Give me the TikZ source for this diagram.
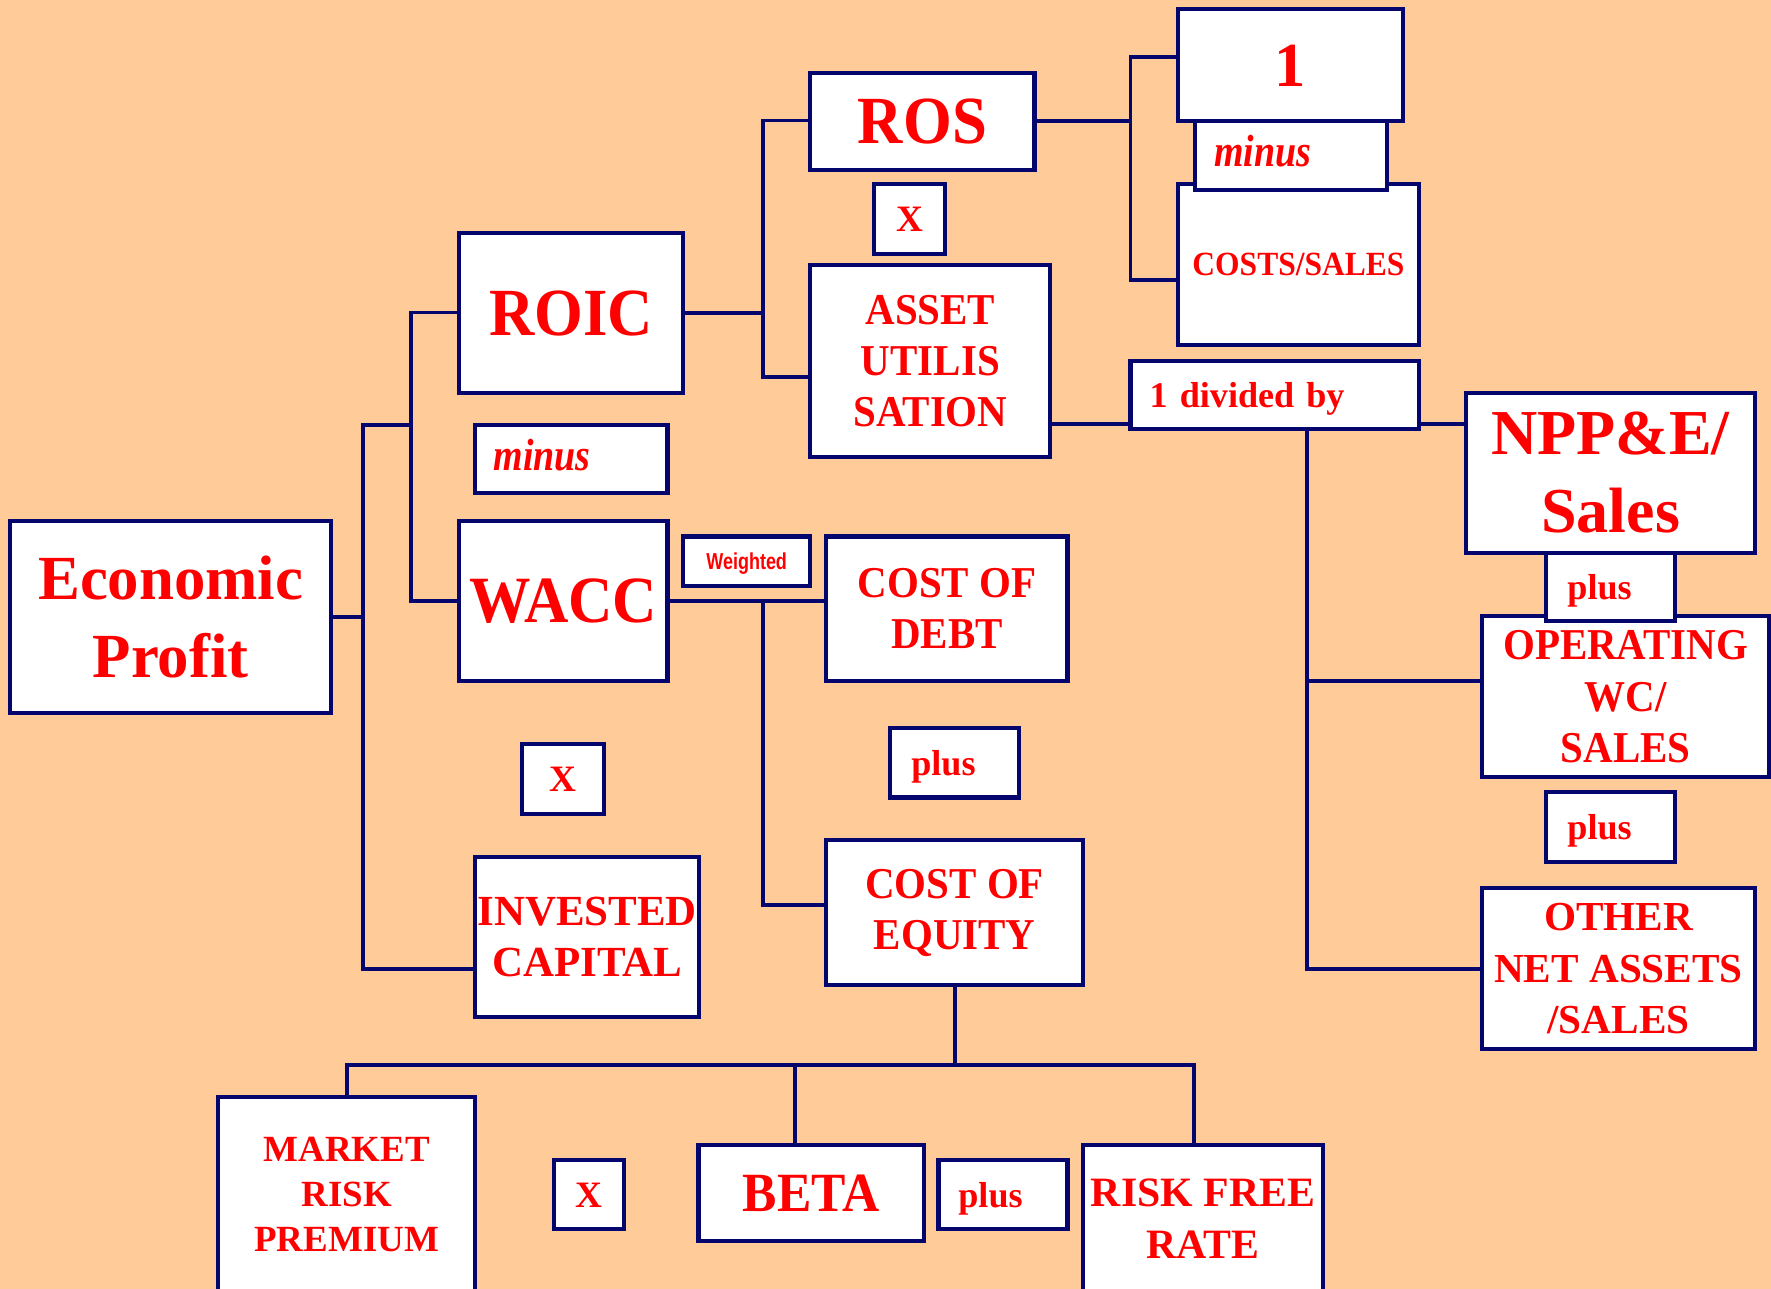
\documentclass[tikz,border=0pt]{standalone}
\usepackage{fontspec}
\setmainfont{Liberation Serif}
\newfontfamily\tnr{Liberation Serif}
\newfontfamily\tnrc{Liberation Serif}[FakeStretch=0.93]
\newfontfamily\tnri{Liberation Serif}[FakeStretch=0.84]
\newfontfamily\arn{Liberation Sans}[FakeStretch=0.78]
\definecolor{peach}{RGB}{255,204,153}
\definecolor{boxnavy}{RGB}{5,5,110}
\definecolor{txtred}{RGB}{255,0,0}
\pgfdeclarelayer{bg}
\pgfsetlayers{bg,main}
\tikzset{
  box/.style={draw=boxnavy, fill=white, line width=3.6pt, inner sep=0pt, text=txtred, align=center},
  conn/.style={draw=boxnavy, line width=3.4pt, line cap=rect},
  oneline/.style={text height=#1, text depth=0pt},
  lbox/.style={box, align=left, inner xsep=#1},
}
\begin{document}
\begin{tikzpicture}[x=1pt,y=-1pt]
\begin{pgfonlayer}{bg}
\fill[peach] (0,0) rectangle (1568,1141);
\end{pgfonlayer}
\useasboundingbox (0,0) rectangle (1568,1141);

% left column
\node[box, minimum width=284.1pt, minimum height=170.1pt, font=\tnr\bfseries\fontsize{55.6}{69}\selectfont] (econ) at (151.15,546.35) {Economic\\Profit};
\node[box, oneline=39.5pt, minimum width=198.2pt, minimum height=141.5pt, font=\tnrc\bfseries\fontsize{59.7}{66}\selectfont] (roic) at (505.6,277.05) {ROIC};
\node[lbox=16.3pt, oneline=20pt, text width=137.7pt, minimum height=60.5pt, font=\tnri\bfseries\itshape\fontsize{40}{46}\selectfont] (minusL) at (505.85,406.55) {minus};
\node[box, oneline=38.7pt, minimum width=184.5pt, minimum height=141.5pt, font=\tnrc\bfseries\fontsize{58.5}{66}\selectfont] (wacc) at (498.75,532.05) {WACC};
\node[box, oneline=14.6pt, minimum width=112.8pt, minimum height=43.6pt, font=\arn\bfseries\fontsize{20.4}{24}\selectfont] (weighted) at (661.1,496.8) {Weighted};
\node[box, minimum width=213.4pt, minimum height=127.8pt, font=\tnrc\bfseries\fontsize{39}{45}\selectfont] (debt) at (838.4,538.9) {COST OF\\DEBT};
\node[box, oneline=21.8pt, minimum width=72.2pt, minimum height=62.4pt, font=\tnr\bfseries\fontsize{33}{38}\selectfont] (xmid) at (498.5,689.7) {X};
\node[lbox=18.6pt, oneline=21.8pt, text width=76.9pt, minimum height=61.3pt, font=\tnr\bfseries\fontsize{32}{38}\selectfont] (plusmid) at (845.25,675.45) {plus};
\node[box, minimum width=198.2pt, minimum height=141.8pt, font=\tnr\bfseries\fontsize{38}{45}\selectfont] (inv) at (519.8,829.3) {INVESTED\\CAPITAL};
\node[box, minimum width=227pt, minimum height=128pt, font=\tnrc\bfseries\fontsize{39}{45}\selectfont] (coe) at (845.2,808) {COST OF\\EQUITY};

% upper middle
\node[box, oneline=39.5pt, minimum width=198.4pt, minimum height=85.8pt, font=\tnrc\bfseries\fontsize{59.7}{66}\selectfont] (ros) at (816.7,107.3) {ROS};
\node[box, oneline=21.8pt, minimum width=63pt, minimum height=61.5pt, font=\tnr\bfseries\fontsize{33}{38}\selectfont] (xtop) at (805.5,193.75) {X};
\node[box, minimum width=212.5pt, minimum height=170.6pt, font=\tnrc\bfseries\fontsize{39}{45.5}\selectfont] (asset) at (823.75,319.7) {ASSET\\UTILIS\\SATION};
\node[box, oneline=37.5pt, minimum width=198.7pt, minimum height=99.6pt, font=\tnr\bfseries\fontsize{55.5}{62}\selectfont] (one) at (1142.55,57.7) {1};
\node[box, oneline=19.9pt, minimum width=212.8pt, minimum height=141.9pt, font=\tnrc\bfseries\fontsize{30}{36}\selectfont] (costs) at (1149.6,234.15) {COSTS/SALES};
\node[lbox=16.6pt, oneline=20pt, text width=136.3pt, minimum height=60.5pt, font=\tnri\bfseries\itshape\fontsize{40}{46}\selectfont] (minusR) at (1143.05,137.75) {minus};
\node[lbox=17pt, oneline=21.8pt, text width=221.1pt, minimum height=60.8pt, font=\tnr\bfseries\fontsize{32}{38}\selectfont] (divby) at (1128.45,349.8) {1 divided by};

% right column
\node[box, minimum width=255.5pt, minimum height=141.5pt, font=\tnr\bfseries\fontsize{56.7}{69}\selectfont] (npp) at (1425.95,418.55) {NPP\&E/\\Sales};
\node[box, minimum width=254pt, minimum height=142.6pt, font=\tnrc\bfseries\fontsize{39}{45.5}\selectfont] (op) at (1439.3,616.8) {OPERATING\\WC/\\SALES};
\node[lbox=18.7pt, oneline=21.8pt, text width=76.8pt, minimum height=59.4pt, font=\tnr\bfseries\fontsize{32}{38}\selectfont] (plusr1) at (1426.2,519.7) {plus};
\node[lbox=18.7pt, oneline=21.8pt, text width=76.8pt, minimum height=62.1pt, font=\tnr\bfseries\fontsize{32}{38}\selectfont] (plusr2) at (1426.2,732.05) {plus};
\node[box, minimum width=241.4pt, minimum height=142.5pt, font=\tnr\bfseries\fontsize{36.5}{45.5}\selectfont] (other) at (1433,857.75) {OTHER\\NET ASSETS\\/SALES};

% bottom row
\node[box, minimum width=227.6pt, minimum height=172.8pt, font=\tnr\bfseries\fontsize{32.7}{39.7}\selectfont] (mrp) at (306.9,1057.6) {MARKET\\RISK\\PREMIUM};
\node[box, oneline=21.8pt, minimum width=62.5pt, minimum height=61.3pt, font=\tnr\bfseries\fontsize{33}{38}\selectfont] (xbot) at (521.55,1057.85) {X};
\node[box, oneline=32.4pt, minimum width=199.4pt, minimum height=84.8pt, font=\tnrc\bfseries\fontsize{49}{56}\selectfont] (beta) at (718.1,1056.2) {BETA};
\node[lbox=17.6pt, oneline=21.8pt, text width=79pt, minimum height=61.3pt, font=\tnr\bfseries\fontsize{32}{38}\selectfont] (plusbot) at (888,1057.85) {plus};
\node[box, minimum width=212.8pt, minimum height=130.2pt, font=\tnr\bfseries\fontsize{37}{45.8}\selectfont] (rfr) at (1065.1,1078.9) {RISK FREE\\RATE};

% bus coordinates
\coordinate (b1top) at (321.1,376.3);
\coordinate (b1bot) at (321.1,857.6);
\coordinate (b2top) at (363.8,276.7);
\coordinate (b2bot) at (363.8,532.4);
\coordinate (b3top) at (675.8,106.7);
\coordinate (b3bot) at (675.8,334);
\coordinate (b4top) at (1000.9,50.6);
\coordinate (b4bot) at (1000.9,248.2);
\coordinate (y5) at (0,375.5);
\coordinate (b5mid) at (1156.9,602.6);
\coordinate (b5) at (1156.9,857.6);
\coordinate (b6) at (675.8,532.4);
\coordinate (b6bot) at (675.8,801);
\coordinate (b7l) at (307.4,942.7);
\coordinate (b7m) at (703.8,942.7);
\coordinate (b7r) at (1057.3,942.7);

\begin{pgfonlayer}{bg}
\draw[conn] (econ.east) -- (econ.east -| b1top);
\draw[conn] (b1top) -- (b1bot);
\draw[conn] (b1bot) -- (b1bot -| inv.west);
\draw[conn] (b1top) -- (b1top -| b2top);
\draw[conn] (b2top) -- (b2bot);
\draw[conn] (b2top) -- (b2top -| roic.west);
\draw[conn] (b2bot) -- (b2bot -| wacc.west);
\draw[conn] (roic.east) -- (roic.east -| b3top);
\draw[conn] (b3top) -- (b3bot);
\draw[conn] (b3top) -- (b3top -| ros.west);
\draw[conn] (b3bot) -- (b3bot -| asset.west);
\draw[conn] (ros.east) -- (ros.east -| b4top);
\draw[conn] (b4top) -- (b4bot);
\draw[conn] (b4top) -- (b4top -| one.west);
\draw[conn] (b4bot) -- (b4bot -| costs.west);
\draw[conn] (asset.east |- y5) -- (divby.west |- y5);
\draw[conn] (divby.east |- y5) -- (npp.west |- y5);
\draw[conn] (divby.south -| b5) -- (b5);
\draw[conn] (b5mid) -- (b5mid -| op.west);
\draw[conn] (b5) -- (b5 -| other.west);
\draw[conn] (wacc.east |- b6) -- (debt.west |- b6);
\draw[conn] (b6) -- (b6bot);
\draw[conn] (b6bot) -- (b6bot -| coe.west);
\draw[conn] (coe.south) -- (coe.south |- b7l);
\draw[conn] (b7l) -- (b7r);
\draw[conn] (b7l) -- (b7l |- mrp.north);
\draw[conn] (b7m) -- (b7m |- beta.north);
\draw[conn] (b7r) -- (b7r |- rfr.north);
\end{pgfonlayer}
\end{tikzpicture}
\end{document}
